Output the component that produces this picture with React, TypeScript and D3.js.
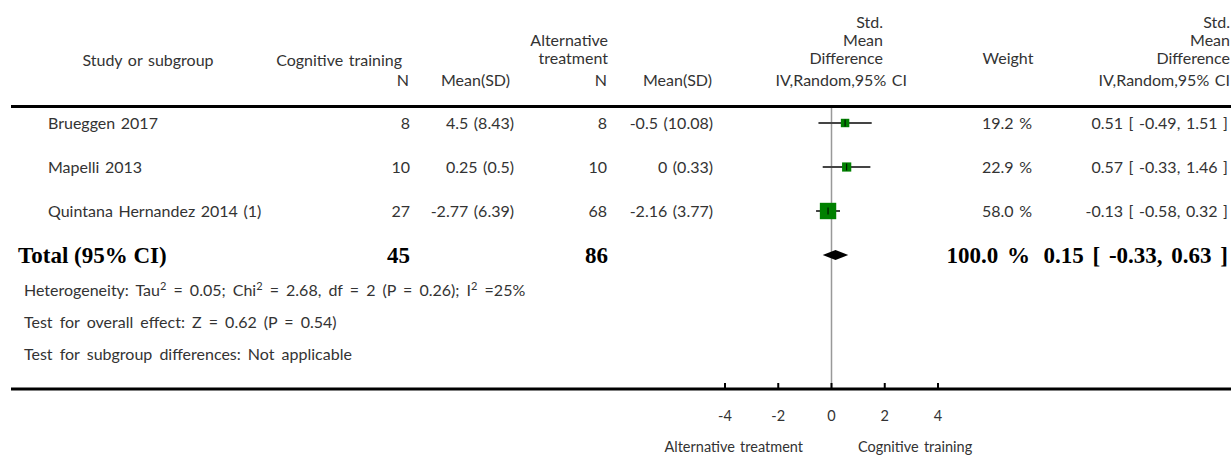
import React from "react";
import * as d3 from "d3";

const studies = ["Brueggen 2017", "Mapelli 2013", "Quintana Hernandez 2014 (1)"];
const ctN = [8, 10, 27];
const ctMean = [4.5, 0.25, -2.77];
const ctSD = [8.43, 0.5, 6.39];
const atN = [8, 10, 68];
const atMean = [-0.5, 0, -2.16];
const atSD = [10.08, 0.33, 3.77];
const smd = [0.51, 0.57, -0.13];
const lower = [-0.49, -0.33, -0.58];
const upper = [1.51, 1.46, 0.32];
const weights = [19.2, 22.9, 58.0];

const totalCtN = 45;
const totalAtN = 86;
const totalWeight = 100.0;
const totalSmd = 0.15;
const totalLower = -0.33;
const totalUpper = 0.63;

const ticks = [-4, -2, 0, 2, 4];

const SANS = "Lato, 'Open Sans', sans-serif";
const SERIF = "'Liberation Serif', 'DejaVu Serif', serif";
const TXT = "#333";

export default function App() {
  const W = 1231;
  const H = 455;
  const x = d3.scaleLinear().domain([-4, 4]).range([725, 938]);
  const rowY = d3.scaleLinear().domain([0, 3]).range([123, 255]);
  const boxSize = d3.scaleLinear().domain([0, 100]).range([4.5, 25]);

  const fs = 16;
  const fmtCI = (m: number, l: number, u: number) =>
    `${m.toFixed(2)} [ ${l.toFixed(2)}, ${u.toFixed(2)} ]`;

  const headerLineY = 106.5;
  const axisY = 389;
  const ty = rowY(3);

  const t = (
    xx: number,
    yy: number,
    s: string,
    anchor: "start" | "middle" | "end" = "start",
    size = fs,
    ws = 1.5
  ) => (
    <text
      x={xx}
      y={yy}
      dy="0.35em"
      textAnchor={anchor}
      fontFamily={SANS}
      fontSize={size}
      wordSpacing={ws}
      fill={TXT}
    >
      {s}
    </text>
  );

  const diamond =
    d3.line()([
      [x(totalLower), ty],
      [x(totalSmd), ty - 5],
      [x(totalUpper), ty],
      [x(totalSmd), ty + 5],
    ]) + "Z";

  return (
    <svg
      width={W}
      height={H}
      style={{ position: "absolute", left: 0, top: 0, background: "#fff" }}
    >
      {/* headers */}
      {t(148, 60, "Study or subgroup", "middle")}
      {t(402, 60, "Cognitive training", "end")}
      {t(409, 80, "N", "end")}
      {t(510, 80, "Mean(SD)", "end")}
      {t(608, 40, "Alternative", "end")}
      {t(608, 58, "treatment", "end")}
      {t(607, 80, "N", "end")}
      {t(712, 80, "Mean(SD)", "end")}
      {t(883, 22, "Std.", "end")}
      {t(883, 40, "Mean", "end")}
      {t(883, 58, "Difference", "end")}
      {t(907, 80, "IV,Random,95% CI", "end")}
      {t(1008, 58, "Weight", "middle")}
      {t(1230, 22, "Std.", "end")}
      {t(1230, 40, "Mean", "end")}
      {t(1230, 58, "Difference", "end")}
      {t(1230, 80, "IV,Random,95% CI", "end")}

      <line x1={11} x2={W} y1={headerLineY} y2={headerLineY} stroke="#000" strokeWidth={3} />

      {/* reference line */}
      <line x1={x(0)} x2={x(0)} y1={headerLineY + 1.5} y2={axisY} stroke="#999" strokeWidth={1.5} />

      {/* study rows */}
      {studies.map((s, i) => {
        const y = rowY(i);
        const b = boxSize(weights[i]);
        return (
          <g key={s}>
            {t(48, y, s)}
            {t(410, y, String(ctN[i]), "end")}
            {t(514, y, `${ctMean[i]} (${ctSD[i]})`, "end")}
            {t(607, y, String(atN[i]), "end")}
            {t(713, y, `${atMean[i]} (${atSD[i]})`, "end")}
            {t(1032, y, `${weights[i].toFixed(1)} %`, "end")}
            {t(1228, y, fmtCI(smd[i], lower[i], upper[i]), "end")}
            <line x1={x(lower[i])} x2={x(upper[i])} y1={y} y2={y} stroke="#444" strokeWidth={2} />
            <rect x={x(smd[i]) - b / 2} y={y - b / 2} width={b} height={b} fill="#008000" />
            <line x1={x(smd[i])} x2={x(smd[i])} y1={y - 3.5} y2={y + 3.5} stroke="#000" strokeWidth={1} />
          </g>
        );
      })}

      {/* total row */}
      <g fontFamily={SERIF} fontWeight="bold" fontSize={23} fill="#000" wordSpacing={3}>
        <text x={18} y={ty} dy="0.35em" wordSpacing={0}>Total (95% CI)</text>
        <text x={410} y={ty} dy="0.35em" textAnchor="end">{totalCtN}</text>
        <text x={608} y={ty} dy="0.35em" textAnchor="end">{totalAtN}</text>
        <text x={1030} y={ty} dy="0.35em" textAnchor="end">{`${totalWeight.toFixed(1)} %`}</text>
        <text x={1228} y={ty} dy="0.35em" textAnchor="end">{fmtCI(totalSmd, totalLower, totalUpper)}</text>
      </g>
      <path d={diamond} fill="#000" />

      {/* footnotes */}
      <text x={24} y={290} dy="0.35em" fontFamily={SANS} fontSize={fs} fill={TXT} wordSpacing={3}>
        Heterogeneity: Tau<tspan dy={-6} fontSize={11}>2</tspan>
        <tspan dy={6}> = 0.05; Chi</tspan>
        <tspan dy={-6} fontSize={11}>2</tspan>
        <tspan dy={6}> = 2.68, df = 2 (P = 0.26); I</tspan>
        <tspan dy={-6} fontSize={11}>2</tspan>
        <tspan dy={6}> =25%</tspan>
      </text>
      {t(24, 322, "Test for overall effect: Z = 0.62 (P = 0.54)", "start", fs, 3)}
      {t(24, 354, "Test for subgroup differences: Not applicable", "start", fs, 3)}

      {/* axis */}
      <line x1={11} x2={W} y1={axisY} y2={axisY} stroke="#000" strokeWidth={3} />
      {ticks.map((v) => (
        <g key={v}>
          <line x1={x(v)} x2={x(v)} y1={axisY - 6} y2={axisY} stroke="#000" strokeWidth={2} />
          {t(x(v), 416, String(v), "middle", 14.5)}
        </g>
      ))}
      {t(803, 447, "Alternative treatment", "end", 14.5)}
      {t(858, 447, "Cognitive training", "start", 14.5)}
    </svg>
  );
}
